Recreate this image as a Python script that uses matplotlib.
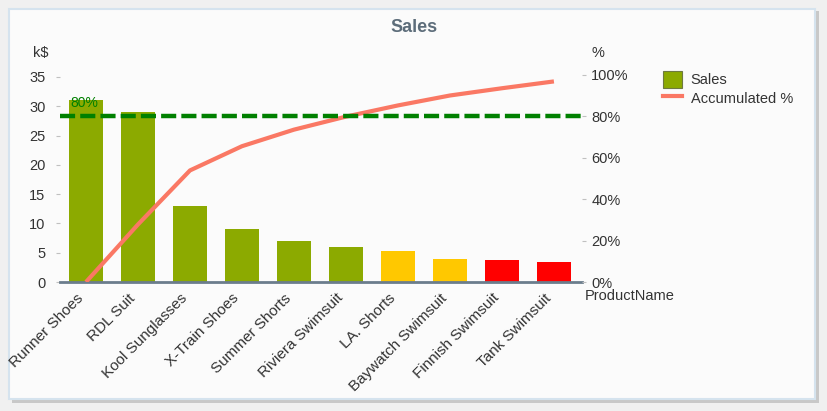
import matplotlib
matplotlib.use("Agg")
import matplotlib.pyplot as plt
from matplotlib.patches import Rectangle, Patch
from matplotlib.lines import Line2D

plt.rcParams["font.family"] = ["Liberation Sans", "DejaVu Sans"]

# data
products = ["Runner Shoes", "RDL Suit", "Kool Sunglasses", "X-Train Shoes",
            "Summer Shorts", "Riviera Swimsuit", "LA. Shorts", "Baywatch Swimsuit",
            "Finnish Swimsuit", "Tank Swimsuit"]
sales = [31.0, 29.0, 13.0, 9.0, 7.0, 6.0, 5.3, 3.9, 3.75, 3.4]
accumulated = [0.0, 27.8, 53.9, 65.6, 73.6, 79.9, 85.3, 90.1, 93.6, 96.9]
bar_colors = ["#8caa00"] * 6 + ["#ffc800"] * 2 + ["#ff0000"] * 2
threshold = 80
left_ticks = [0, 5, 10, 15, 20, 25, 30, 35]
right_ticks = [0, 20, 40, 60, 80, 100]

W, H = 827, 411
fig = plt.figure(figsize=(W / 100, H / 100), dpi=100, facecolor="#f0f0f0")

# panel with shadow
shadow = Rectangle((12 / W, 8 / H), 807 / W, 392 / H, transform=fig.transFigure,
                   facecolor="#c8c8c8", edgecolor="none", zorder=-2)
panel = Rectangle((9 / W, 12 / H), 806 / W, 390 / H, transform=fig.transFigure,
                  facecolor="#fbfbfb", edgecolor="#d5e3ee", linewidth=1.5, zorder=-1)
fig.patches.extend([shadow, panel])

ax = fig.add_axes([60 / W, 1 - 282 / H, 522 / W, 207 / H])
ax.patch.set_alpha(0)
ax2 = ax.twinx()

x = list(range(len(products)))
ax.bar(x, sales, width=0.67, color=bar_colors, zorder=2)
ax.set_xlim(-0.5, 9.54)
ax.set_ylim(0, 35 * 207 / 205)
ax.set_yticks(left_ticks)
ax.set_xticks(x)
ax.set_xticklabels([])
# rotated category labels, shifted down-left like the original
for i, name in zip(x, products):
    ax.annotate(name, (i, 0), xycoords=("data", "axes fraction"), xytext=(-10, -9),
                textcoords="offset pixels", rotation=45, ha="right", va="top",
                rotation_mode="anchor", fontsize=11, color="#333333", annotation_clip=False)

ax2.plot(x, accumulated, color="#fa7864", linewidth=3, zorder=3, solid_capstyle="butt")
ax2.axhline(threshold, color="#008000", linewidth=3.2, dashes=(3.4, 1.15), zorder=4)
ax2.text(-0.31, threshold + 3, "80%", color="#008000", fontsize=10, ha="left", va="bottom")
ax2.set_ylim(0, 100)
ax2.set_yticks(right_ticks)
ax2.set_yticklabels([f"{t}%" for t in right_ticks])

for a in (ax, ax2):
    for s in ("top", "left", "right", "bottom"):
        a.spines[s].set_visible(False)
    a.tick_params(axis="y", length=3, width=0.8, color="#c0c0c0", labelsize=10.5,
                  labelcolor="#333333")
ax.tick_params(axis="y", pad=7.5)
ax2.tick_params(axis="y", pad=3.6)
ax.tick_params(axis="x", length=0, pad=2)
ax.axhline(0, color="#6b7d8c", linewidth=2, zorder=5, clip_on=False)

fig.text(414 / W, 1 - 28 / H, "Sales", ha="center", va="center", fontsize=13,
         fontweight="bold", color="#5d6d7a")
fig.text(33 / W, 1 - 53 / H, "k$", ha="left", va="center", fontsize=10.5, color="#333333")
fig.text(592 / W, 1 - 53 / H, "%", ha="left", va="center", fontsize=10.5, color="#333333")
fig.text(585 / W, 1 - 296 / H, "ProductName", ha="left", va="center", fontsize=10.5, color="#333333")

handles = [Patch(facecolor="#8caa00", edgecolor="#6e7a40", linewidth=0.8),
           Line2D([0], [0], color="#fa7864", linewidth=3)]
fig.legend(handles, ["Sales", "Accumulated %"], loc="upper left",
           bbox_to_anchor=(650 / W, 1 - 58 / H), frameon=False, fontsize=10.5,
           handlelength=1.3, handleheight=1.4, handletextpad=0.6, labelspacing=0.1,
           labelcolor="#333333")

fig.savefig("out.png", dpi=100, facecolor=fig.get_facecolor())
